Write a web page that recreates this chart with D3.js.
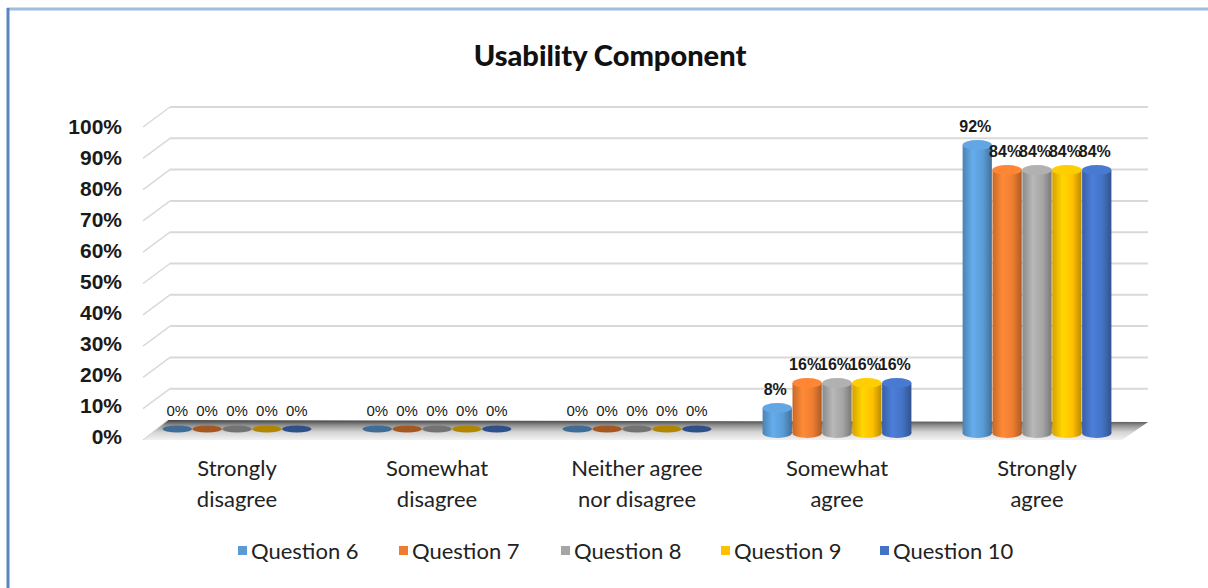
<!DOCTYPE html>
<html>
<head>
<meta charset="utf-8">
<script src="https://cdn.jsdelivr.net/npm/d3@7"></script>
<style>
  body { margin: 0; background: #fff; }
  svg { display: block; }
</style>
</head>
<body>
<svg id="chart" width="1208" height="588"></svg>
<script>
const categories = [['Strongly', 'disagree'], ['Somewhat', 'disagree'], ['Neither agree', 'nor disagree'], ['Somewhat', 'agree'], ['Strongly', 'agree']];
const seriesNames = ['Question 6', 'Question 7', 'Question 8', 'Question 9', 'Question 10'];
const seriesColors = ['#5b9bd5', '#ed7d31', '#a5a5a5', '#ffc000', '#4472c4'];
// percent per category, one array per question
const q6 = [0, 0, 0, 8, 92];
const q7 = [0, 0, 0, 16, 84];
const q8 = [0, 0, 0, 16, 84];
const q9 = [0, 0, 0, 16, 84];
const q10 = [0, 0, 0, 16, 84];
const seriesValues = [q6, q7, q8, q9, q10];
const yTicks = [0, 10, 20, 30, 40, 50, 60, 70, 80, 90, 100];

const svg = d3.select('#chart');
const depth = { dx: 25, dy: -20 };
const front = { left: 143, right: 1122, base: 440 };

// frame
svg.append('line')
  .attr('x1', 7).attr('x2', 1208).attr('y1', 9).attr('y2', 9)
  .attr('stroke', '#9dbde3').attr('stroke-width', 3);
svg.append('line')
  .attr('x1', 8).attr('x2', 8).attr('y1', 8).attr('y2', 588)
  .attr('stroke', '#5a86c0').attr('stroke-width', 3);

svg.append('text')
  .attr('x', 610).attr('y', 66)
  .attr('text-anchor', 'middle')
  .style('font-family', 'Lato, sans-serif')
  .style('font-weight', '900')
  .style('font-size', '29px')
  .attr('fill', '#111')
  .text('Usability Component');

// scales
const yFront = d3.scaleLinear().domain([0, 100]).range([front.base - 3, 127]);
const yBack = d3.scaleLinear().domain([0, 100]).range([front.base + depth.dy, 107]);
const yBar = d3.scaleLinear().domain([0, 100]).range([433, 120]);
const x0 = d3.scaleBand().domain(d3.range(categories.length)).range([137, 1137]);
const x1 = d3.scaleBand().domain(d3.range(seriesNames.length)).range([0, 150]).padding(0.02);

// gridlines on back and left walls
const grid = svg.append('g');
grid.selectAll('line.back')
  .data(yTicks.slice(1))
  .join('line')
    .attr('class', 'back')
    .attr('x1', front.left + depth.dx + 2).attr('x2', 1148)
    .attr('y1', d => yBack(d)).attr('y2', d => yBack(d))
    .attr('stroke', '#d9d9d9').attr('stroke-width', 2);
grid.selectAll('line.side')
  .data(yTicks.slice(1))
  .join('line')
    .attr('class', 'side')
    .attr('x1', front.left).attr('x2', front.left + depth.dx + 2)
    .attr('y1', d => yBack(d) - depth.dy).attr('y2', d => yBack(d))
    .attr('stroke', '#d9d9d9').attr('stroke-width', 1.5);

// y labels
svg.append('g').selectAll('text')
  .data(yTicks)
  .join('text')
    .attr('x', 122)
    .attr('y', d => yFront(d) + 7)
    .attr('text-anchor', 'end')
    .style('font-family', 'Liberation Sans, Arial, sans-serif')
    .style('font-weight', 'bold')
    .style('font-size', '21px')
    .attr('fill', '#1a1a1a')
    .text(d => d + '%');

// floor
const defs = svg.append('defs');
const floorGrad = defs.append('linearGradient')
  .attr('id', 'floorGrad').attr('x1', 0).attr('x2', 0).attr('y1', 0).attr('y2', 1);
floorGrad.append('stop').attr('offset', 0).attr('stop-color', '#404040');
floorGrad.append('stop').attr('offset', 0.25).attr('stop-color', '#8c8c8c');
floorGrad.append('stop').attr('offset', 0.6).attr('stop-color', '#d4d4d4');
floorGrad.append('stop').attr('offset', 1).attr('stop-color', '#f2f2f2');
svg.append('path')
  .attr('d', `M${front.left},${front.base} L${front.right},${front.base} L${front.right + depth.dx + 1},${front.base + depth.dy + 2} L${front.left + depth.dx},${front.base + depth.dy} Z`)
  .attr('fill', 'url(#floorGrad)');
svg.append('line')
  .attr('x1', front.left).attr('x2', front.left + depth.dx)
  .attr('y1', front.base).attr('y2', front.base + depth.dy)
  .attr('stroke', '#d0d0d0');

// cylinder gradients
seriesColors.forEach((c, i) => {
  const g = defs.append('linearGradient')
    .attr('id', 'cyl' + i).attr('x1', 0).attr('x2', 1).attr('y1', 0).attr('y2', 0);
  const base = d3.color(c);
  g.append('stop').attr('offset', 0).attr('stop-color', base.darker(0.5));
  g.append('stop').attr('offset', 0.35).attr('stop-color', base.brighter(0.3));
  g.append('stop').attr('offset', 0.7).attr('stop-color', base);
  g.append('stop').attr('offset', 1).attr('stop-color', base.darker(0.9));
});

const bars = [];
categories.forEach((cat, ci) => {
  seriesValues.forEach((vals, si) => {
    bars.push({ ci, si, v: vals[ci] });
  });
});

const rx = x1.bandwidth() / 2;
const ry = 5;
const barG = svg.append('g');
const cyl = barG.selectAll('g.bar')
  .data(bars)
  .join('g')
    .attr('class', 'bar')
    .attr('transform', d => `translate(${x0(d.ci) + (x0.bandwidth() - 150) / 2 + x1(d.si)},0)`);

cyl.filter(d => d.v > 0).append('ellipse')
  .attr('cx', rx).attr('cy', yBar(0)).attr('rx', rx).attr('ry', ry)
  .attr('fill', d => `url(#cyl${d.si})`);
cyl.filter(d => d.v > 0).append('rect')
  .attr('x', 0).attr('width', x1.bandwidth())
  .attr('y', d => yBar(d.v)).attr('height', d => yBar(0) - yBar(d.v))
  .attr('fill', d => `url(#cyl${d.si})`);
cyl.append('ellipse')
  .attr('cx', rx).attr('cy', d => d.v > 0 ? yBar(d.v) : yBar(0) - 4)
  .attr('rx', rx).attr('ry', d => d.v > 0 ? ry : 3.5)
  .attr('fill', d => d.v > 0 ? d3.color(seriesColors[d.si]).brighter(0.2) : d3.color(seriesColors[d.si]).darker(1));

// value labels
cyl.append('text')
  .attr('x', d => rx + (d.v > 0 ? -2 : 0))
  .attr('y', d => d.v > 0 ? yBar(d.v) - 13 : yBar(0) - 17)
  .attr('text-anchor', 'middle')
  .style('font-family', 'Liberation Sans, Arial, sans-serif')
  .style('font-weight', d => d.v > 0 ? 'bold' : 'normal')
  .style('font-size', d => d.v > 0 ? '16px' : '15px')
  .attr('fill', '#1a1a1a')
  .text(d => d.v + '%');

// category labels
const catG = svg.append('g').selectAll('text')
  .data(categories)
  .join('text')
    .attr('x', (d, i) => x0(i) + x0.bandwidth() / 2)
    .attr('y', 476)
    .attr('text-anchor', 'middle')
    .style('font-family', 'Lato, sans-serif')
    .style('font-size', '22px')
    .attr('fill', '#222');
catG.selectAll('tspan')
  .data(d => d)
  .join('tspan')
    .attr('x', function() { return d3.select(this.parentNode).attr('x'); })
    .attr('dy', (d, i) => i === 0 ? 0 : 31)
    .text(d => d);

// legend
const legendX = [238, 399, 561, 721, 880];
const leg = svg.append('g').selectAll('g')
  .data(seriesNames)
  .join('g')
    .attr('transform', (d, i) => `translate(${legendX[i]},551)`);
leg.append('rect')
  .attr('x', 0).attr('y', -5).attr('width', 9).attr('height', 9)
  .attr('fill', (d, i) => seriesColors[i]);
leg.append('text')
  .attr('x', 13).attr('y', 8)
  .style('font-family', 'Lato, sans-serif')
  .style('font-size', '22px')
  .attr('fill', '#222')
  .text(d => d);
</script>
</body>
</html>
